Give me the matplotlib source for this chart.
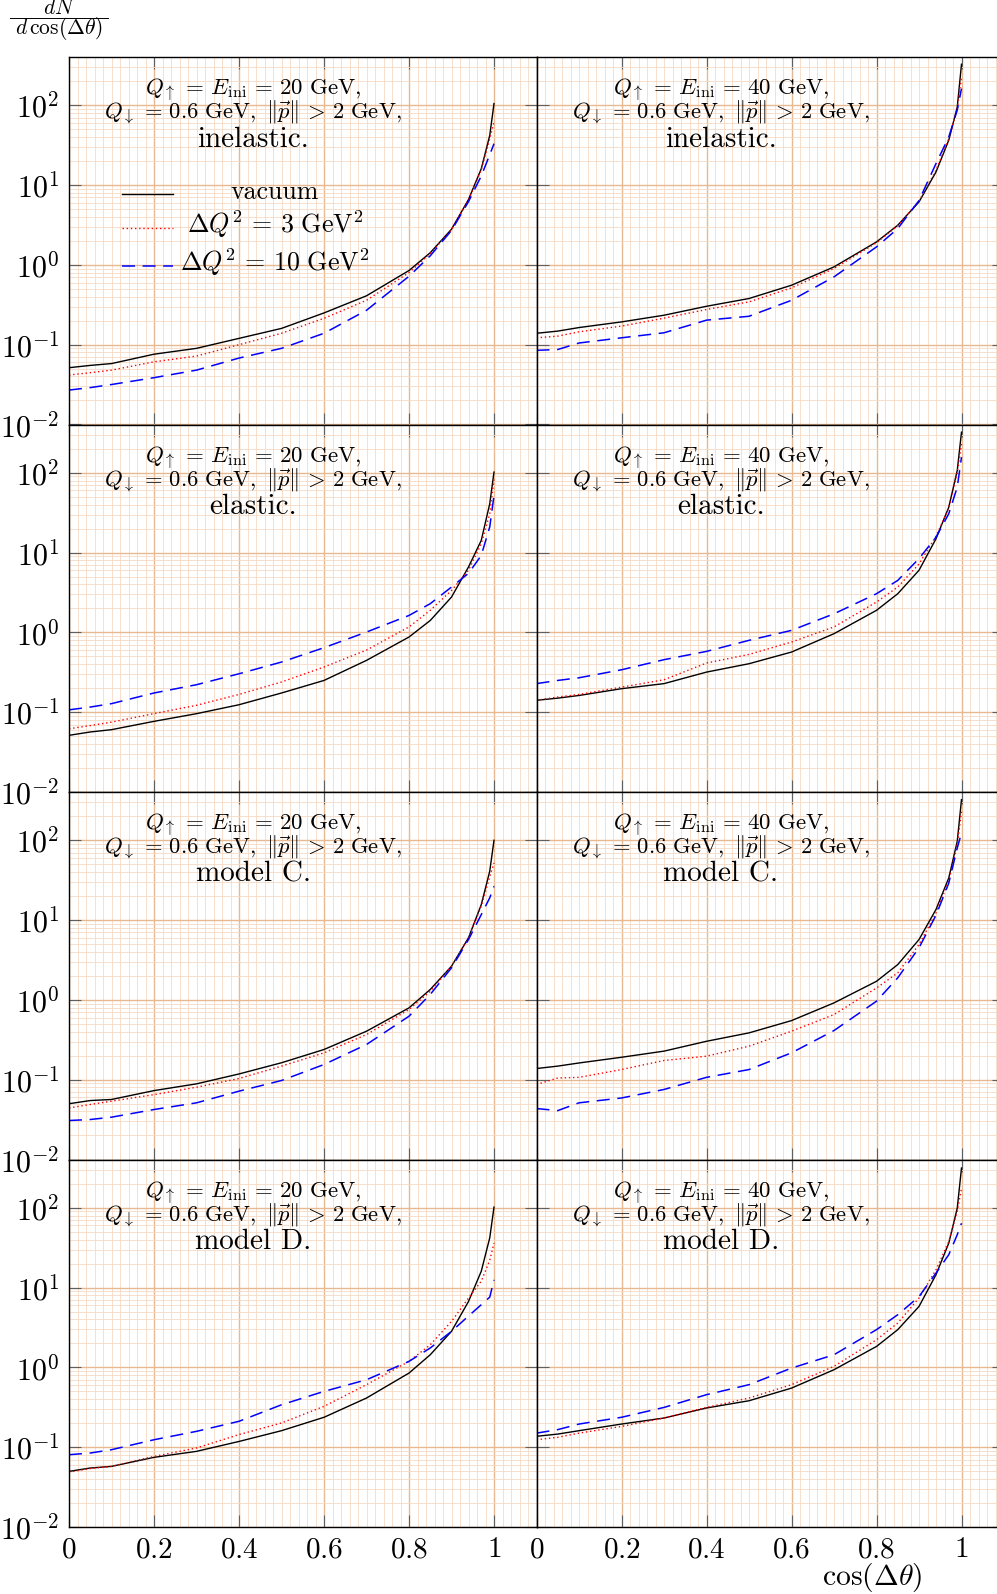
import numpy as np
import matplotlib
matplotlib.use("Agg")
import matplotlib.pyplot as plt
from matplotlib.lines import Line2D
from matplotlib.ticker import FixedLocator, MultipleLocator, LogLocator, NullFormatter

plt.rcParams['mathtext.fontset'] = 'cm'
plt.rcParams['font.family'] = 'serif'
plt.rcParams['font.serif'] = ['cmr10', 'DejaVu Serif']
plt.rcParams['axes.formatter.use_mathtext'] = True

# cos(dtheta) sampling points
x = [0, 0.05, 0.1, 0.2, 0.3, 0.4, 0.5, 0.6, 0.7, 0.8, 0.85, 0.9, 0.94, 0.97, 0.99, 1.0]

# inelastic
vac_inel_20 = [0.0515, 0.055, 0.058, 0.076, 0.090, 0.12, 0.16, 0.25, 0.41, 0.85, 1.42, 2.8, 6.6, 16, 42, 105]
dq3_inel_20 = [0.0417, 0.0446, 0.048, 0.061, 0.072, 0.10, 0.139, 0.214, 0.36, 0.80, 1.38, 2.75, 6.5, 15.5, 38, 62]
dq10_inel_20 = [0.027, 0.029, 0.0317, 0.0386, 0.048, 0.068, 0.090, 0.139, 0.27, 0.72, 1.3, 2.7, 6.2, 13, 24, 33]
vac_inel_40 = [0.139, 0.148, 0.164, 0.193, 0.234, 0.303, 0.379, 0.556, 0.944, 1.94, 3.14, 6.15, 14.6, 36.5, 95, 327]
dq3_inel_40 = [0.122, 0.128, 0.145, 0.171, 0.215, 0.276, 0.344, 0.515, 0.90, 1.89, 3.1, 6.3, 15.3, 38, 91, 226]
dq10_inel_40 = [0.085, 0.087, 0.105, 0.122, 0.141, 0.203, 0.227, 0.36, 0.708, 1.68, 2.85, 6.4, 18.6, 40, 87, 162]

# elastic
vac_el_20 = [0.0513, 0.0565, 0.0604, 0.0768, 0.0958, 0.124, 0.174, 0.25, 0.446, 0.875, 1.41, 2.77, 6.6, 14.2, 41, 102]
dq3_el_20 = [0.062, 0.068, 0.075, 0.096, 0.122, 0.167, 0.239, 0.368, 0.60, 1.17, 1.89, 3.36, 6.0, 12.9, 30.6, 84]
dq10_el_20 = [0.107, 0.116, 0.128, 0.174, 0.221, 0.303, 0.425, 0.643, 1.01, 1.63, 2.29, 3.7, 5.5, 9.2, 21, 52]
vac_el_40 = [0.141, 0.150, 0.162, 0.197, 0.228, 0.318, 0.405, 0.567, 0.963, 1.89, 3.05, 6.0, 14.9, 37, 107, 323]
dq3_el_40 = [0.141, 0.155, 0.167, 0.206, 0.255, 0.413, 0.53, 0.757, 1.17, 2.4, 3.7, 7.2, 16, 36, 100, 230]
dq10_el_40 = [0.228, 0.25, 0.27, 0.34, 0.455, 0.578, 0.795, 1.06, 1.71, 3.05, 4.48, 8.4, 15.6, 30.6, 66, 157]

# model C
vac_C_20 = [0.050, 0.0548, 0.0565, 0.073, 0.0887, 0.118, 0.163, 0.239, 0.405, 0.794, 1.35, 2.64, 6.0, 15.6, 41, 100]
dq3_C_20 = [0.0443, 0.0489, 0.0538, 0.065, 0.0805, 0.1035, 0.148, 0.217, 0.368, 0.757, 1.28, 2.64, 6.0, 14.9, 35, 52]
dq10_C_20 = [0.0308, 0.0317, 0.0339, 0.0423, 0.0513, 0.0718, 0.0977, 0.155, 0.276, 0.624, 1.17, 2.52, 5.7, 11.7, 19, 26.5]
vac_C_40 = [0.138, 0.148, 0.162, 0.191, 0.228, 0.303, 0.386, 0.55, 0.917, 1.71, 2.77, 5.7, 13.6, 33.7, 97, 323]
dq3_C_40 = [0.087, 0.105, 0.107, 0.134, 0.174, 0.197, 0.263, 0.405, 0.655, 1.41, 2.18, 4.93, 12.3, 31, 88, 230]
dq10_C_40 = [0.0435, 0.041, 0.0513, 0.059, 0.0754, 0.107, 0.134, 0.217, 0.413, 0.963, 1.89, 4.5, 11.5, 29, 80, 124]

# model D
vac_D_20 = [0.0498, 0.0548, 0.0575, 0.0746, 0.0887, 0.118, 0.161, 0.237, 0.413, 0.849, 1.44, 2.83, 6.7, 16, 42, 102]
dq3_D_20 = [0.0487, 0.054, 0.0575, 0.0767, 0.0977, 0.144, 0.201, 0.325, 0.607, 1.19, 1.92, 3.77, 7.4, 12, 22, 36]
dq10_D_20 = [0.0805, 0.0845, 0.093, 0.124, 0.158, 0.211, 0.34, 0.50, 0.70, 1.19, 1.75, 2.83, 4.4, 6.1, 7.6, 12.5]
vac_D_40 = [0.137, 0.146, 0.161, 0.195, 0.232, 0.31, 0.382, 0.55, 0.935, 1.83, 2.97, 5.8, 14.5, 36, 99, 315]
dq3_D_40 = [0.124, 0.133, 0.15, 0.182, 0.232, 0.315, 0.413, 0.607, 1.03, 2.22, 3.59, 7.4, 16.7, 37.8, 90, 176]
dq10_D_40 = [0.150, 0.166, 0.195, 0.237, 0.315, 0.455, 0.607, 0.98, 1.44, 2.97, 4.57, 7.7, 15.2, 25.8, 46, 64]

models = ['inelastic.', 'elastic.', 'model C.', 'model D.']
energies = [20, 40]
panels = [
    [(vac_inel_20, dq3_inel_20, dq10_inel_20), (vac_inel_40, dq3_inel_40, dq10_inel_40)],
    [(vac_el_20, dq3_el_20, dq10_el_20), (vac_el_40, dq3_el_40, dq10_el_40)],
    [(vac_C_20, dq3_C_20, dq10_C_20), (vac_C_40, dq3_C_40, dq10_C_40)],
    [(vac_D_20, dq3_D_20, dq10_D_20), (vac_D_40, dq3_D_40, dq10_D_40)],
]
labels = ['vacuum', r'$\Delta Q^2 \,=\, 3\ \mathrm{GeV}^2$', r'$\Delta Q^2 \,=\, 10\ \mathrm{GeV}^2$']
yticks = [1e-2, 1e-1, 1e0, 1e1, 1e2]
ytick_labels = [r'$10^{-2}$', r'$10^{-1}$', r'$10^{0}$', r'$10^{1}$', r'$10^{2}$']
xticks = [0, 0.2, 0.4, 0.6, 0.8, 1.0]
xtick_labels = [r'$0$', r'$0.2$', r'$0.4$', r'$0.6$', r'$0.8$', r'$1$']

styles = [dict(color='black', lw=1.0, ls='-'),
          dict(color='red', lw=1.0, ls=(0, (1, 2))),
          dict(color='blue', lw=1.1, ls=(0, (8.5, 5)))]

W, H = 997, 1594
fig = plt.figure(figsize=(W / 100, H / 100), dpi=100)

ax_left = [69, 536.5]
ax_w = 467.5
ax_h = 367.5
top = 57

major_grid = '#e8b890'
minor_grid = '#f5d9c4'

line1 = r'$Q_{\uparrow} \,=\, E_{\mathrm{ini}} \,=\, %d\ \mathrm{GeV},$'
line2 = r'$Q_{\downarrow} \,=\, 0.6\ \mathrm{GeV},\ \Vert\vec{p}\Vert \,>\, 2\ \mathrm{GeV},$'

for r in range(4):
    for c in range(2):
        ax = fig.add_axes([ax_left[c] / W, (H - top - (r + 1) * ax_h) / H, ax_w / W, ax_h / H])
        for ys, st in zip(panels[r][c], styles):
            ax.plot(x, ys, **st)
        ax.set_yscale('log')
        ax.set_xlim(0, 1.1)
        ax.set_ylim(1e-2, 10 ** 2.605)
        ax.set_axisbelow(True)
        ax.xaxis.set_major_locator(FixedLocator(xticks))
        ax.xaxis.set_minor_locator(MultipleLocator(0.02))
        ax.yaxis.set_major_locator(FixedLocator(yticks))
        ax.yaxis.set_minor_locator(LogLocator(base=10, subs=np.arange(2, 10)))
        ax.yaxis.set_minor_formatter(NullFormatter())
        ax.grid(which='major', color=major_grid, lw=1.0)
        ax.grid(which='minor', color=minor_grid, lw=0.6)
        ax.tick_params(which='major', direction='in', length=8.6, width=0.8,
                       color='#606060', top=True, right=True, labelsize=21, pad=7)
        ax.tick_params(axis='y', labelsize=21.7)
        ax.tick_params(which='minor', length=0)
        for s in ax.spines.values():
            s.set_linewidth(1.0)
            s.set_color('black')
        if c == 0:
            ax.set_yticklabels(ytick_labels)
        else:
            ax.set_yticklabels([])
        if r == 3:
            ax.set_xticklabels(xtick_labels)
        else:
            ax.set_xticklabels([])

        tr = ax.transAxes
        ax.text(0.394, 1 - 37.3 / ax_h, line1 % energies[c],
                transform=tr, ha='center', va='baseline', fontsize=16.5)
        ax.text(0.394, 1 - 61 / ax_h, line2,
                transform=tr, ha='center', va='baseline', fontsize=16.3)
        ax.text(0.394, 1 - 89.7 / ax_h, models[r],
                transform=tr, ha='center', va='baseline', fontsize=21)

        if r == 0 and c == 0:
            # hand-made legend, text centred as in the original
            ly = [1 - 137 / ax_h, 1 - 171 / ax_h, 1 - 209 / ax_h]
            for yy, st, lab in zip(ly, styles, labels):
                ax.plot([0.113, 0.222], [yy, yy], transform=tr, **st)
                ax.text(0.44, yy - 5 / ax_h, lab, transform=tr, ha='center',
                        va='baseline', fontsize=18.7)

# y label as a stacked fraction: dN over d cos(dtheta)
fig.text(59 / W, 1 - 13.5 / H, r'$dN$', ha='center', va='baseline', fontsize=15.5)
fig.add_artist(Line2D([10 / W, 108 / W], [1 - 18 / H, 1 - 18 / H], color='black', lw=0.7))
fig.text(59 / W, 1 - 34 / H, r'$d\,\cos(\Delta\theta)$', ha='center', va='baseline', fontsize=15.5)
fig.text(872 / W, 16 / H, r'$\cos(\Delta\theta)$', ha='center', va='center', fontsize=21.4)

fig.savefig('out.png', dpi=100)
